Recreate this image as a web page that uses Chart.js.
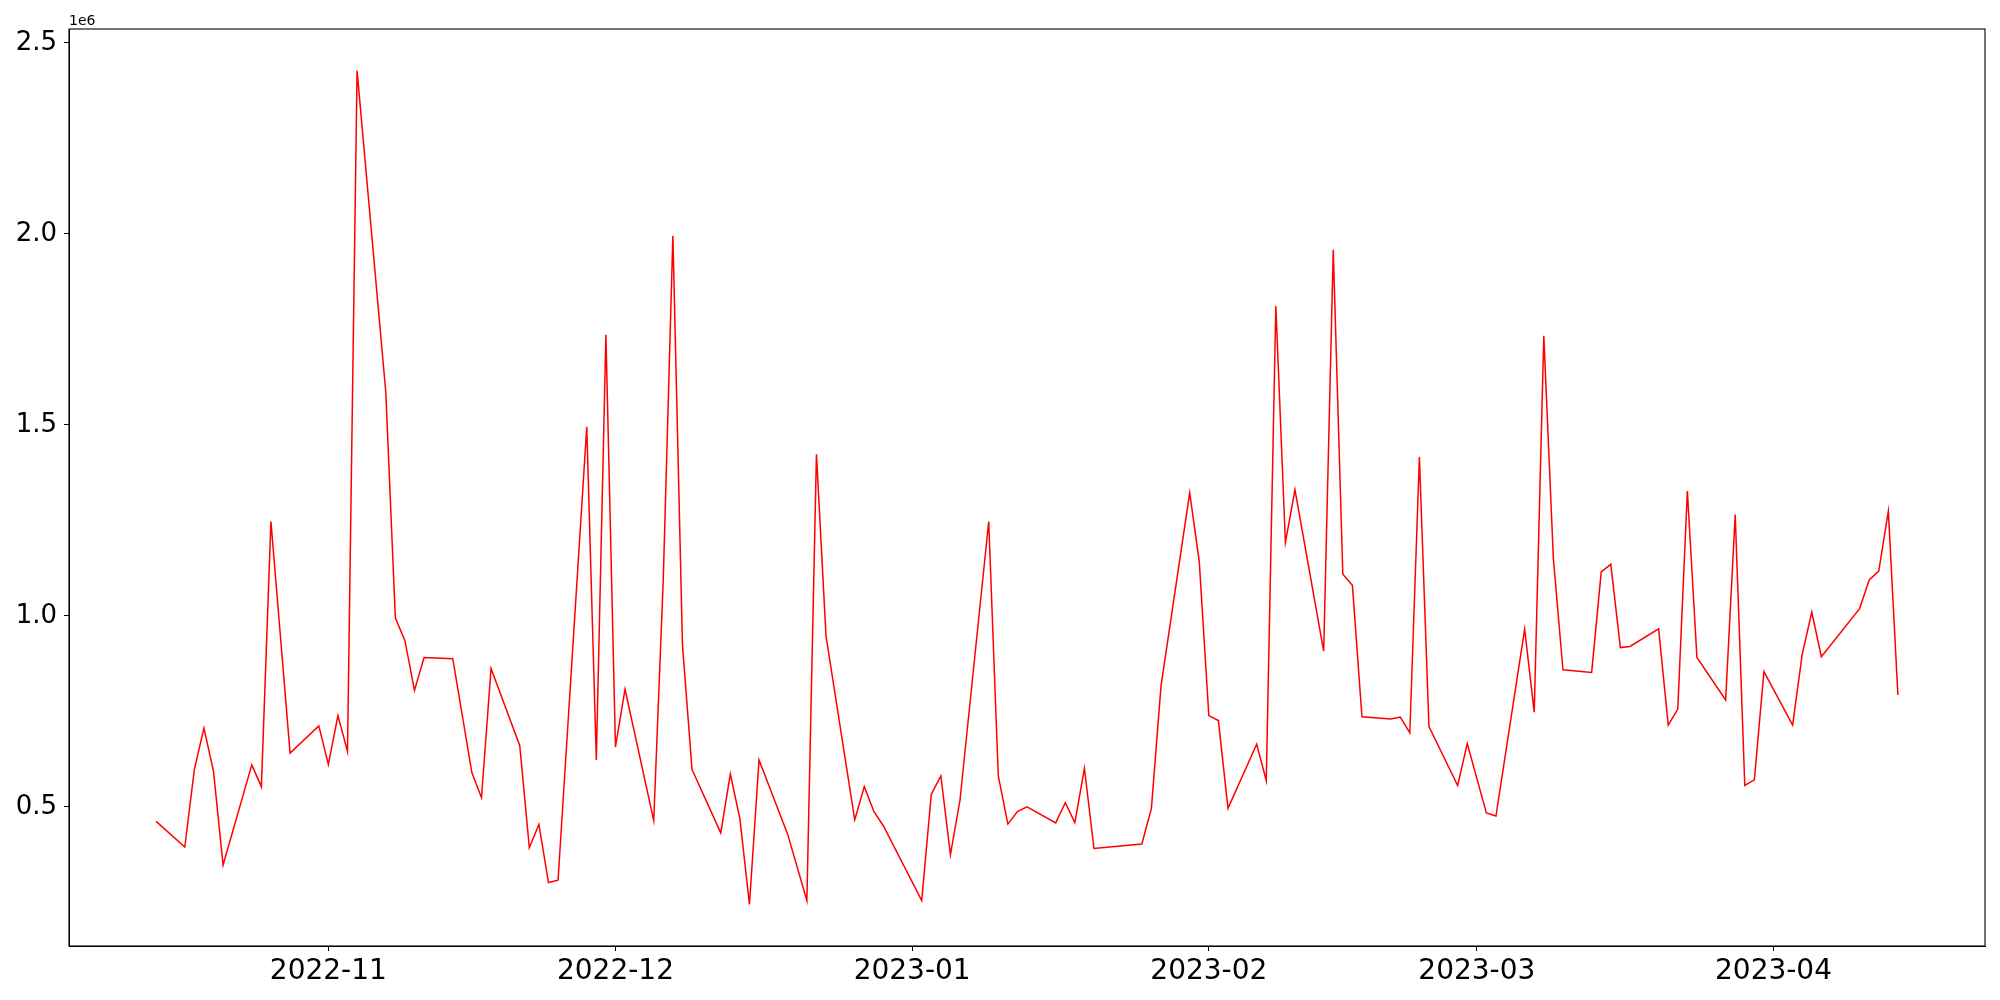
<!DOCTYPE html>
<html lang="en">

<head>
    <meta charset="UTF-8">
    <title>Daily series</title>
    <script src="https://cdn.jsdelivr.net/npm/chart.js@4"></script>
    <style>
        body { margin: 0; background: #fff; }
        #chart { display: block; }
    </style>
</head>

<body>
    <canvas id="chart" width="2000" height="1000"></canvas>

    <script>
        // Data
        const dates = [
            '2022-10-14', '2022-10-17', '2022-10-18', '2022-10-19', '2022-10-20', '2022-10-21',
            '2022-10-24', '2022-10-25', '2022-10-26', '2022-10-28', '2022-10-31',
            '2022-11-01', '2022-11-02', '2022-11-03', '2022-11-04', '2022-11-07', '2022-11-08',
            '2022-11-09', '2022-11-10', '2022-11-11', '2022-11-14', '2022-11-16', '2022-11-17',
            '2022-11-18', '2022-11-21', '2022-11-22', '2022-11-23', '2022-11-24', '2022-11-25',
            '2022-11-28', '2022-11-29', '2022-11-30',
            '2022-12-01', '2022-12-02', '2022-12-05', '2022-12-06', '2022-12-07', '2022-12-08',
            '2022-12-09', '2022-12-12', '2022-12-13', '2022-12-14', '2022-12-15', '2022-12-16',
            '2022-12-19', '2022-12-21', '2022-12-22', '2022-12-23', '2022-12-26', '2022-12-27',
            '2022-12-28', '2022-12-29',
            '2023-01-02', '2023-01-03', '2023-01-04', '2023-01-05', '2023-01-06', '2023-01-09',
            '2023-01-10', '2023-01-11', '2023-01-12', '2023-01-13', '2023-01-16', '2023-01-17',
            '2023-01-18', '2023-01-19', '2023-01-20', '2023-01-25', '2023-01-26', '2023-01-27',
            '2023-01-30', '2023-01-31',
            '2023-02-01', '2023-02-02', '2023-02-03', '2023-02-06', '2023-02-07', '2023-02-08',
            '2023-02-09', '2023-02-10', '2023-02-13', '2023-02-14', '2023-02-15', '2023-02-16',
            '2023-02-17', '2023-02-20', '2023-02-21', '2023-02-22', '2023-02-23', '2023-02-24',
            '2023-02-27', '2023-02-28',
            '2023-03-02', '2023-03-03', '2023-03-06', '2023-03-07', '2023-03-08', '2023-03-09',
            '2023-03-10', '2023-03-13', '2023-03-14', '2023-03-15', '2023-03-16', '2023-03-17',
            '2023-03-20', '2023-03-21', '2023-03-22', '2023-03-23', '2023-03-24', '2023-03-27',
            '2023-03-28', '2023-03-29', '2023-03-30', '2023-03-31',
            '2023-04-03', '2023-04-04', '2023-04-05', '2023-04-06', '2023-04-10', '2023-04-11',
            '2023-04-12', '2023-04-13', '2023-04-14'
        ];

        const values = [
            462000, 395000, 598000, 706000, 593000, 348000,
            610000, 553000, 1247000, 641000, 712000,
            611000, 739000, 645000, 2427000, 1586000, 995000,
            935000, 805000, 891000, 888000, 589000, 524000,
            862000, 660000, 393000, 454000, 302000, 308000,
            1495000, 623000, 1736000,
            657000, 808000, 464000, 1100000, 1995000, 924000,
            598000, 432000, 586000, 469000, 245000, 623000,
            428000, 255000, 1423000, 947000, 466000, 553000,
            488000, 450000,
            255000, 533000, 581000, 375000, 518000, 1247000,
            581000, 455000, 488000, 500000, 458000, 511000,
            459000, 601000, 391000, 403000, 496000, 816000,
            1322000, 1142000,
            739000, 726000, 496000, 664000, 569000, 1811000,
            1192000, 1330000, 908000, 1958000, 1109000, 1080000,
            736000, 730000, 735000, 694000, 1416000, 710000,
            556000, 666000,
            484000, 476000, 965000, 748000, 1733000, 1150000,
            859000, 852000, 1115000, 1135000, 917000, 920000,
            966000, 714000, 756000, 1327000, 891000, 780000,
            1265000, 556000, 571000, 854000,
            714000, 899000, 1010000, 893000, 1019000, 1094000,
            1117000, 1274000, 793000
        ];

        // tick positions and labels
        const xTickDates = ['2022-11-01', '2022-12-01', '2023-01-01', '2023-02-01', '2023-03-01', '2023-04-01'];
        const xTickLabels = ['2022-11', '2022-12', '2023-01', '2023-02', '2023-03', '2023-04'];
        const yTicks = [500000, 1000000, 1500000, 2000000, 2500000];
        const yTickLabels = ['0.5', '1.0', '1.5', '2.0', '2.5'];

        function toTime(s) {
            const p = s.split('-').map(Number);
            return Date.UTC(p[0], p[1] - 1, p[2]);
        }

        const points = dates.map((d, i) => ({ x: toTime(d), y: values[i] }));

        // matplotlib style 5% margins
        const xs = points.map(p => p.x);
        const xMin0 = Math.min(...xs), xMax0 = Math.max(...xs);
        const xPad = (xMax0 - xMin0) * 0.05;
        const yMin0 = Math.min(...values), yMax0 = Math.max(...values);
        const yPad = (yMax0 - yMin0) * 0.05;

        const font = 'DejaVu Sans';

        // box around the plot area and the offset text
        const framePlugin = {
            id: 'frame',
            afterDraw(chart) {
                const { ctx, chartArea } = chart;
                ctx.save();
                ctx.strokeStyle = '#000';
                ctx.lineWidth = 1.1;
                ctx.strokeRect(chartArea.left, chartArea.top,
                    chartArea.right - chartArea.left, chartArea.bottom - chartArea.top);
                ctx.fillStyle = '#000';
                ctx.font = '14px "' + font + '"';
                ctx.textAlign = 'left';
                ctx.textBaseline = 'alphabetic';
                ctx.fillText('1e6', chartArea.left, chartArea.top - 4);
                ctx.restore();
            }
        };

        new Chart(document.getElementById('chart').getContext('2d'), {
            type: 'line',
            data: {
                datasets: [{
                    data: points,
                    borderColor: '#ff0000',
                    borderWidth: 1.5,
                    pointRadius: 0,
                    fill: false,
                    tension: 0
                }]
            },
            options: {
                responsive: false,
                animation: false,
                layout: { padding: { top: 29, right: 15, left: 0, bottom: 0 } },
                plugins: {
                    legend: { display: false },
                    tooltip: { enabled: false }
                },
                scales: {
                    x: {
                        type: 'linear',
                        min: xMin0 - xPad,
                        max: xMax0 + xPad,
                        afterBuildTicks: scale => {
                            scale.ticks = xTickDates.map(d => ({ value: toTime(d) }));
                        },
                        afterFit: scale => { scale.height = 54; },
                        grid: {
                            display: true,
                            drawOnChartArea: false,
                            drawTicks: true,
                            tickLength: 5,
                            tickColor: '#000',
                            tickWidth: 1
                        },
                        border: { display: true, color: '#000', width: 1 },
                        ticks: {
                            maxRotation: 0,
                            autoSkip: false,
                            padding: 4,
                            color: '#000',
                            font: { family: font, size: 28 },
                            callback: function (value) {
                                const i = xTickDates.findIndex(d => toTime(d) === value);
                                return i >= 0 ? xTickLabels[i] : '';
                            }
                        }
                    },
                    y: {
                        type: 'linear',
                        min: yMin0 - yPad,
                        max: yMax0 + yPad,
                        afterBuildTicks: scale => {
                            scale.ticks = yTicks.map(v => ({ value: v }));
                        },
                        afterFit: scale => { scale.width = 69; },
                        grid: {
                            display: true,
                            drawOnChartArea: false,
                            drawTicks: true,
                            tickLength: 5,
                            tickColor: '#000',
                            tickWidth: 1
                        },
                        border: { display: true, color: '#000', width: 1 },
                        ticks: {
                            autoSkip: false,
                            padding: 7,
                            color: '#000',
                            font: { family: font, size: 26 },
                            callback: function (value) {
                                const i = yTicks.indexOf(value);
                                return i >= 0 ? yTickLabels[i] : '';
                            }
                        }
                    }
                }
            },
            plugins: [framePlugin]
        });
    </script>
</body>

</html>
